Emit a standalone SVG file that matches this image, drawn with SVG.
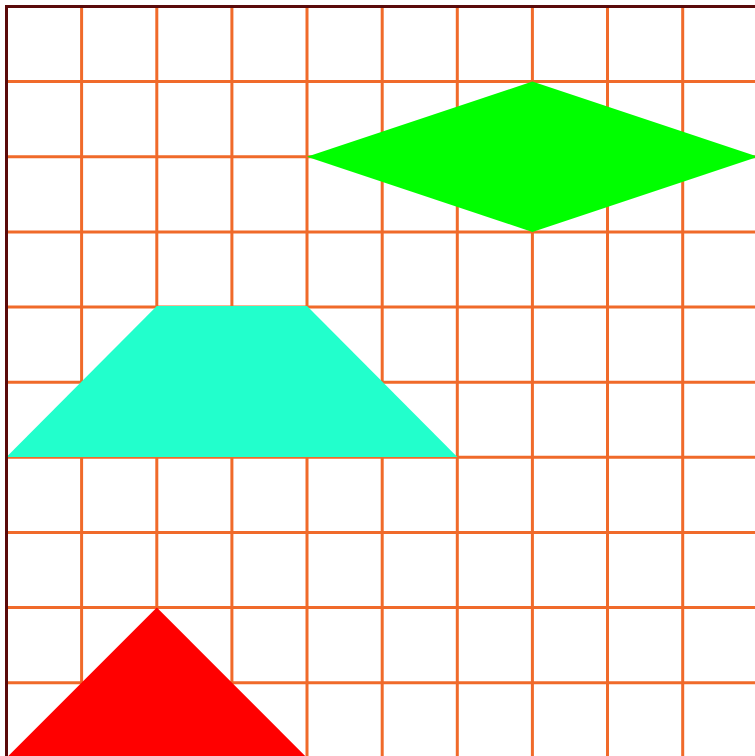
<svg xmlns="http://www.w3.org/2000/svg" width="755" height="756" viewBox="0 0 755 756">
<style>
.grid line{stroke:#f06a2a;stroke-width:3}
</style>
<rect x="0" y="0" width="755" height="756" fill="#ffffff"/>
<g class="grid">
<line x1="81.6" y1="6" x2="81.6" y2="760"/>
<line x1="156.8" y1="6" x2="156.8" y2="760"/>
<line x1="231.9" y1="6" x2="231.9" y2="760"/>
<line x1="307" y1="6" x2="307" y2="760"/>
<line x1="382.2" y1="6" x2="382.2" y2="760"/>
<line x1="457.3" y1="6" x2="457.3" y2="760"/>
<line x1="532.4" y1="6" x2="532.4" y2="760"/>
<line x1="607.5" y1="6" x2="607.5" y2="760"/>
<line x1="682.7" y1="6" x2="682.7" y2="760"/>
<line x1="6" y1="81.6" x2="760" y2="81.6"/>
<line x1="6" y1="156.8" x2="760" y2="156.8"/>
<line x1="6" y1="231.9" x2="760" y2="231.9"/>
<line x1="6" y1="307" x2="760" y2="307"/>
<line x1="6" y1="382.2" x2="760" y2="382.2"/>
<line x1="6" y1="457.3" x2="760" y2="457.3"/>
<line x1="6" y1="532.4" x2="760" y2="532.4"/>
<line x1="6" y1="607.5" x2="760" y2="607.5"/>
<line x1="6" y1="682.7" x2="760" y2="682.7"/>
</g>
<g id="diamond"><polygon points="307,156.8 532.4,81.6 757.8,156.8 532.4,231.9" fill="#00ff00"/></g>
<g id="trapezoid"><polygon points="156.8,306 307,306 457.3,457 6.5,457" fill="#22ffcc"/></g>
<g id="triangle"><polygon points="156.8,607.5 307,757.8 6.5,757.8" fill="#ff0000"/></g>
<rect x="6.5" y="6.5" width="760" height="760" fill="none" stroke="#5a0a0a" stroke-width="3"/>
</svg>
